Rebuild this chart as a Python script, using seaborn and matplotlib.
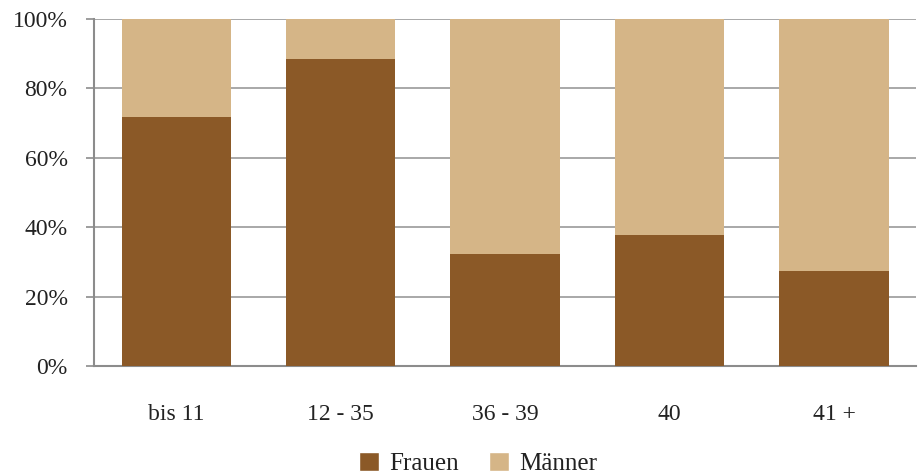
import matplotlib
matplotlib.use("Agg")
import matplotlib.pyplot as plt
import seaborn as sns
import pandas as pd
from matplotlib.patches import Patch
from matplotlib.ticker import FuncFormatter

categories = ["bis 11", "12 - 35", "36 - 39", "40", "41 +"]
frauen = [71.8, 88.6, 32.3, 37.8, 27.5]
maenner = [100 - f for f in frauen]

sns.set_theme(style="white")
plt.rcParams['font.family'] = ['Liberation Serif', 'DejaVu Serif']

df = pd.DataFrame({"cat": categories, "frauen": frauen,
                   "total": [f + m for f, m in zip(frauen, maenner)]})

c_f = "#8B5927"
c_m = "#D5B587"

fig = plt.figure(figsize=(9.23, 4.75), dpi=100)
ax = fig.add_axes([0.1018, 0.229, 0.891, 0.731])

sns.barplot(data=df, x="cat", y="total", color=c_m, width=0.665, ax=ax,
            saturation=1, edgecolor="none", zorder=2)
sns.barplot(data=df, x="cat", y="frauen", color=c_f, width=0.665, ax=ax,
            saturation=1, edgecolor="none", zorder=3)

ax.set_ylim(0, 100)
ax.set_xlim(-0.5, 4.5)
ax.set_yticks([0, 20, 40, 60, 80, 100])
ax.yaxis.set_major_formatter(FuncFormatter(lambda v, p: f"{int(v)}%"))
ax.grid(axis="y", color="#9a9a9a", linewidth=1.2, zorder=0)
ax.set_axisbelow(True)
for s in ["top", "right"]:
    ax.spines[s].set_visible(False)
for s in ["left", "bottom"]:
    ax.spines[s].set_color("#8c8c8c")
    ax.spines[s].set_linewidth(1.5)
ax.tick_params(axis="y", which="major", length=6, color="#8c8c8c", width=1.2,
               labelsize=17, labelcolor="#222222", pad=13, left=True)
ax.tick_params(axis="x", length=0, labelsize=17, labelcolor="#222222", pad=27)
ax.set_xlabel("")
ax.set_ylabel("")

handles = [Patch(facecolor=c_f, label="Frauen"), Patch(facecolor=c_m, label="Männer")]
fig.legend(handles=handles, loc="lower center", bbox_to_anchor=(0.518, -0.048), ncol=2,
           frameon=False, fontsize=18, handlelength=0.8, handleheight=0.8,
           handletextpad=0.4, columnspacing=1.2, labelcolor="#222222")

fig.savefig("out.png", dpi=100)
